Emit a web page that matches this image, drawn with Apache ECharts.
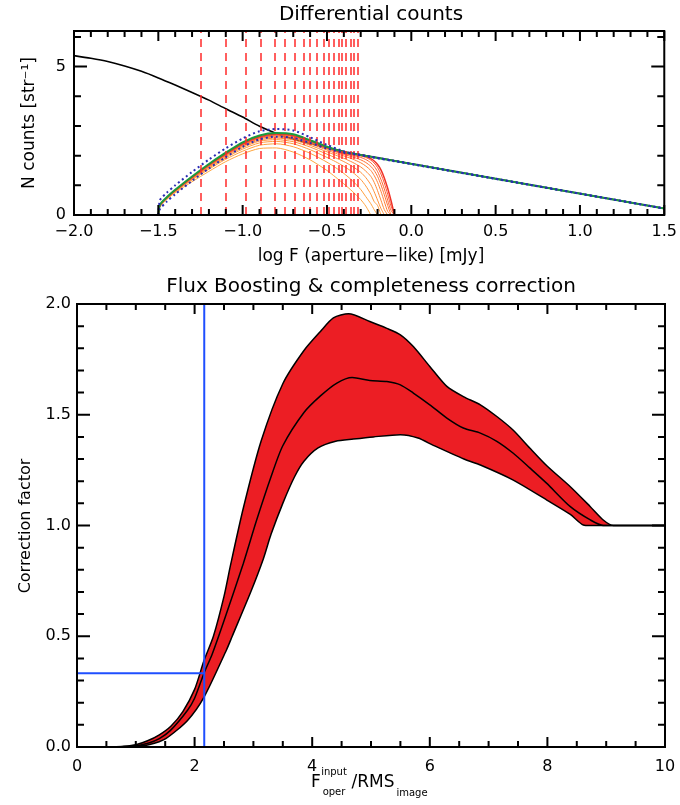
<!DOCTYPE html>
<html><head><meta charset="utf-8">
<script src="https://cdn.jsdelivr.net/npm/echarts@6/dist/echarts.min.js"></script>
<style>html,body{margin:0;padding:0;background:#fff}#c{width:680px;height:805px}</style>
</head><body><div id="c"></div>
<script>
// ---------- Top panel: differential counts ----------
const blackX = [-2.0,-1.9,-1.8,-1.7,-1.6,-1.5,-1.4,-1.3,-1.2,-1.1,-1.0,-0.9,-0.8,-0.7,-0.6,-0.5,-0.4,-0.35,1.5];
const blackY = [5.37,5.28,5.17,5.02,4.84,4.62,4.38,4.13,3.87,3.58,3.30,2.99,2.75,2.56,2.41,2.27,2.14,2.08,0.22];

const gx      = [-1.5,-1.49,-1.45,-1.4,-1.3,-1.2,-1.1,-1.0,-0.9,-0.8,-0.7,-0.6,-0.5,-0.4,-0.35,1.5];
const greenY  = [0,0.35,0.6,0.85,1.3,1.72,2.1,2.45,2.68,2.76,2.72,2.52,2.3,2.12,2.07,0.22];
const blueHiY = [0,0.5,0.75,1.0,1.45,1.87,2.25,2.58,2.82,2.9,2.85,2.62,2.36,2.15,2.08,0.22];
const blueLoY = [0,0.2,0.45,0.7,1.15,1.57,1.95,2.3,2.55,2.64,2.6,2.43,2.24,2.1,2.06,0.22];

const fx = [-1.5,-1.49,-1.45,-1.4,-1.3,-1.2,-1.1,-1.0,-0.9,-0.8,-0.7,-0.6,-0.5,-0.45,-0.4,-0.35,-0.3,-0.27,-0.24,-0.22,-0.2,-0.18,-0.16,-0.14,-0.12,-0.1];
const sim0 = [0,0.28,0.52,0.75,1.12,1.47,1.8,2.06,2.24,2.26,2.12,1.86,1.5,1.28,1.05,0.8,0.52,0.3,0];
const sim1 = [0,0.3,0.54,0.78,1.18,1.54,1.88,2.15,2.35,2.40,2.3,2.08,1.78,1.6,1.4,1.16,0.86,0.62,0.38,0.18,0];
const sim2 = [0,0.3,0.55,0.79,1.2,1.58,1.93,2.22,2.43,2.48,2.4,2.2,1.94,1.8,1.64,1.45,1.2,0.98,0.7,0.45,0.32,0];
const sim3 = [0,0.31,0.56,0.8,1.22,1.61,1.97,2.27,2.49,2.54,2.47,2.29,2.05,1.93,1.8,1.64,1.44,1.26,1.02,0.78,0.5,0.22,0];
const sim4 = [0,0.31,0.56,0.81,1.23,1.63,2.0,2.31,2.53,2.59,2.53,2.35,2.13,2.02,1.91,1.78,1.62,1.48,1.3,1.1,0.82,0.5,0.18,0];
const sim5 = [0,0.31,0.57,0.81,1.24,1.65,2.02,2.34,2.57,2.63,2.57,2.4,2.19,2.08,1.99,1.89,1.76,1.65,1.5,1.33,1.1,0.8,0.45,0.12,0];
const sim6 = [0,0.32,0.57,0.82,1.25,1.66,2.03,2.36,2.59,2.66,2.61,2.43,2.23,2.13,2.04,1.96,1.86,1.77,1.64,1.5,1.3,1.02,0.68,0.32,0];
const sim7 = [0,0.32,0.57,0.82,1.26,1.67,2.04,2.38,2.61,2.69,2.64,2.46,2.26,2.16,2.07,2.01,1.94,1.87,1.76,1.64,1.46,1.2,0.88,0.5,0.15,0];
const sim8 = [0,0.32,0.57,0.82,1.26,1.68,2.05,2.39,2.62,2.71,2.66,2.48,2.27,2.17,2.09,2.04,1.99,1.94,1.85,1.75,1.6,1.38,1.08,0.7,0.3,0];
const sim9 = [0,0.33,0.58,0.83,1.27,1.69,2.06,2.4,2.64,2.73,2.68,2.5,2.28,2.18,2.1,2.06,2.02,1.98,1.9,1.82,1.7,1.52,1.25,0.9,0.48,0];
const simColors = ['#ffa640','#ffa03e','#ff993c','#ff913a','#ff8838','#ff7e36','#ff7234','#ff6432','#ff5530','#f03228'];

const cutLines = [-1.250,-1.096,-0.976,-0.888,-0.810,-0.746,-0.690,-0.640,-0.597,-0.558,-0.523,-0.491,-0.462,-0.435,-0.410,-0.386,-0.363,-0.341,-0.318];

const topXRange = [-2, 1.5];
const topYRange = [0, 6.2];
const topXMajor = [-2.0,-1.5,-1.0,-0.5,0.0,0.5,1.0,1.5];
const topYMajor = [0, 5];
const topYMinor = [1, 2, 3, 4, 6];

// ---------- Bottom panel: correction factor ----------
const upX = [0.6,0.8,1.0,1.2,1.4,1.6,1.8,2.0,2.16,2.32,2.5,2.61,2.83,3.13,3.5,3.86,4.14,4.36,4.62,4.98,5.27,5.5,5.72,6.0,6.29,6.57,6.86,7.14,7.42,7.7,7.99,8.39,8.73,8.95,9.12,10];
const upY = [0,0.003,0.01,0.028,0.055,0.095,0.16,0.26,0.39,0.5,0.68,0.82,1.08,1.38,1.64,1.79,1.876,1.937,1.956,1.921,1.89,1.861,1.808,1.718,1.628,1.582,1.545,1.492,1.43,1.35,1.27,1.175,1.085,1.025,1.0,1.0];
const medX = [0.6,1.0,1.22,1.4,1.59,1.88,2.0,2.16,2.3,2.5,2.83,3.05,3.3,3.5,3.86,4.14,4.42,4.68,4.98,5.27,5.5,5.72,6.0,6.29,6.57,6.86,7.14,7.42,7.7,7.99,8.39,8.73,8.95,10];
const medY = [0,0.005,0.018,0.038,0.075,0.166,0.22,0.333,0.42,0.57,0.83,1.02,1.22,1.36,1.51,1.585,1.643,1.668,1.655,1.65,1.635,1.598,1.545,1.485,1.44,1.417,1.38,1.326,1.26,1.19,1.085,1.025,1.0,1.0];
const loX = [0.6,1.0,1.22,1.51,1.88,2.16,2.54,2.64,2.97,3.17,3.3,3.5,3.7,3.86,4.1,4.4,4.7,5.04,5.5,5.8,6.06,6.58,6.86,7.42,7.99,8.39,8.61,8.73,10];
const loY = [0,0.003,0.01,0.038,0.12,0.225,0.437,0.5,0.71,0.85,0.96,1.1,1.22,1.29,1.35,1.38,1.39,1.40,1.41,1.395,1.362,1.30,1.273,1.205,1.115,1.05,1.0025,1.0,1.0];
const threshX = 2.164;
const threshY = 0.333;

const botXRange = [0, 10];
const botYRange = [0, 2];
const botXMajor = [0, 2, 4, 6, 8, 10];
const botYMajor = [0, 0.5, 1.0, 1.5, 2.0];

// ---------- build ----------
const steps = (a, b, s) => { const r = []; for (let k = 0; a + k * s <= b + 1e-9; k++) r.push(Math.round((a + k * s) * 1000) / 1000); return r; };
const topXMinor = steps(-2, 1.5, 0.1);
const botXMinor = steps(0, 10, 0.5);
const botYMinor = steps(0, 2, 0.1);

const pairs = (xs, ys) => ys.map((y, i) => [xs[i], y]);
const FONT = 'DejaVu Sans';
const minus = s => s.replace('-', '\u2212');

function axis(o) {
  return Object.assign({
    type: 'value', splitLine: {show: false},
    axisLine: {show: false, onZero: false},
    axisTick: {show: false},
    minorTick: {show: false}
  }, o);
}
const lbl = (extra) => Object.assign({show: true, color: '#000', fontSize: 16, fontFamily: FONT}, extra);

const G0 = {left: 74, top: 31, width: 593, height: 184};
const G1 = {left: 77, top: 304, width: 588, height: 443};

const xAxes = [
  axis({gridIndex: 0, min: topXRange[0], max: topXRange[1], interval: 0.5, position: 'bottom',
        axisLabel: lbl({margin: 9, formatter: v => minus(v.toFixed(1))})}),
  axis({gridIndex: 1, min: botXRange[0], max: botXRange[1], interval: 2, position: 'bottom',
        axisLabel: lbl({margin: 12, formatter: v => String(Math.round(v))})})
];
const yAxes = [
  axis({gridIndex: 0, min: topYRange[0], max: topYRange[1], interval: 5, position: 'left',
        axisLabel: lbl({margin: 8, showMaxLabel: false, formatter: v => String(Math.round(v))})}),
  axis({gridIndex: 1, min: botYRange[0], max: botYRange[1], interval: 0.5, position: 'left',
        axisLabel: lbl({margin: 6, formatter: v => v.toFixed(1)})})
];

const lineS = (data, color, width, gi, type, z, smooth) => ({
  type: 'line', data, xAxisIndex: gi, yAxisIndex: gi, symbol: 'none', silent: true,
  smooth: smooth === undefined ? 0.25 : smooth,
  lineStyle: {color, width, type: type || 'solid'}, z: z || 2, animation: false, clip: true
});

// frame plus inward ticks on all four sides, positioned through the axis scales
function frameSeries(gi, xr, yr, xMaj, xMin, yMaj, yMin) {
  return {
    type: 'custom', coordinateSystem: 'cartesian2d', xAxisIndex: gi, yAxisIndex: gi,
    data: [[xr[0], yr[0]]], z: 30, silent: true, animation: false, clip: false,
    renderItem: (p, api) => {
      const bl = api.coord([xr[0], yr[0]]), tr = api.coord([xr[1], yr[1]]);
      const L = bl[0], R = tr[0], B = bl[1], Tp = tr[1];
      let d = '';
      xMaj.forEach(v => { const x = api.coord([v, yr[0]])[0]; d += `M${x} ${B}L${x} ${B - 10}M${x} ${Tp}L${x} ${Tp + 10}`; });
      xMin.forEach(v => { const x = api.coord([v, yr[0]])[0]; d += `M${x} ${B}L${x} ${B - 6}M${x} ${Tp}L${x} ${Tp + 6}`; });
      yMaj.forEach(v => { const y = api.coord([xr[0], v])[1]; d += `M${L} ${y}L${L + 13} ${y}M${R} ${y}L${R - 13} ${y}`; });
      yMin.forEach(v => { const y = api.coord([xr[0], v])[1]; d += `M${L} ${y}L${L + 7} ${y}M${R} ${y}L${R - 7} ${y}`; });
      return {type: 'group', children: [
        {type: 'path', shape: {pathData: d}, style: {fill: 'none', stroke: '#000', lineWidth: 2}},
        {type: 'rect', shape: {x: L, y: Tp, width: R - L, height: B - Tp}, style: {fill: null, stroke: '#000', lineWidth: 2}}
      ]};
    }
  };
}

const series = [];
// black model curve + red dashed cut lines
const blackS = lineS(pairs(blackX, blackY), '#000', 1.6, 0, 'solid', 2);
blackS.markLine = {
  symbol: 'none', silent: true, animation: false, label: {show: false},
  lineStyle: {color: '#ff2a2a', width: 1.5, type: [8, 6]},
  data: cutLines.map(v => ({xAxis: v}))
};
series.push(blackS);
[sim0, sim1, sim2, sim3, sim4, sim5, sim6, sim7, sim8, sim9].forEach((s, i) => {
  series.push(lineS(pairs(fx, s), simColors[i], i === 9 ? 1.5 : 1, 0, 'solid', 3));
});
series.push(lineS(pairs(gx, greenY), '#1c9a3c', 2, 0, 'solid', 4));
series.push(lineS(pairs(gx, blueHiY), '#2a2ab4', 2, 0, [2, 3], 5));
series.push(lineS(pairs(gx, blueLoY), '#2a2ab4', 2, 0, [2, 3], 5));
series.push(frameSeries(0, topXRange, topYRange, topXMajor, topXMinor, topYMajor, topYMinor));

// band: red area under upper curve, white area under lower curve, then black edges
const upP = pairs(upX, upY), loP = pairs(loX, loY), medP = pairs(medX, medY);
const upArea = lineS(upP, '#ec1e24', 0, 1, 'solid', 1);
upArea.areaStyle = {color: '#ec1e24', opacity: 1};
const loArea = lineS(loP, '#ffffff', 0, 1, 'solid', 1.5);
loArea.areaStyle = {color: '#ffffff', opacity: 1};
series.push(upArea, loArea);
series.push(lineS(upP, '#000', 1.5, 1, 'solid', 3));
series.push(lineS(medP, '#000', 1.5, 1, 'solid', 3));
series.push(lineS(loP, '#000', 1.5, 1, 'solid', 3));
series.push(lineS([[threshX, botYRange[0]], [threshX, botYRange[1]]], '#1f4fff', 2, 1, 'solid', 6, false));
series.push(lineS([[botXRange[0], threshY], [threshX, threshY]], '#1f4fff', 2, 1, 'solid', 6, false));
series.push(frameSeries(1, botXRange, botYRange, botXMajor, botXMinor, botYMajor, botYMinor));

const T = (text, x, y, size, extra) => Object.assign({
  type: 'text', x, y, silent: true, z: 40,
  style: {text, font: size + 'px "' + FONT + '"', fill: '#000', align: 'center', verticalAlign: 'middle'}
}, extra || {});

const graphic = [
  T('Differential counts', 371, 15, 20),
  T('log F (aperture\u2212like) [mJy]', 371, 257, 17),
  T('N counts [str\u207b\u00b9]', 30, 123, 17, {rotation: Math.PI / 2}),
  T('Flux Boosting & completeness correction', 371, 287, 20),
  T('Correction factor', 26, 526, 16, {rotation: Math.PI / 2}),
  T('F', 316, 783, 17),
  T('input', 334, 772, 10),
  T('oper', 334, 792, 10),
  T('/RMS', 373, 783, 17),
  T('image', 412, 793, 10)
];

const chart = echarts.init(document.getElementById('c'), null, {renderer: 'canvas'});
chart.setOption({
  animation: false,
  backgroundColor: '#fff',
  grid: [G0, G1],
  xAxis: xAxes,
  yAxis: yAxes,
  series,
  graphic
});
</script>
</body></html>
